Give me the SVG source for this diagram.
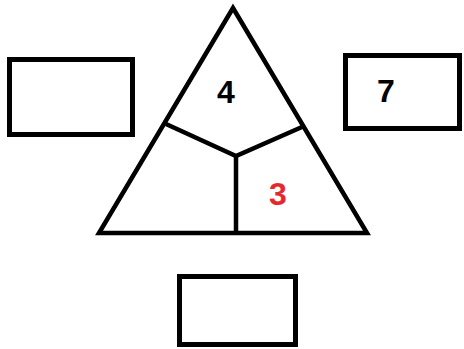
<svg xmlns="http://www.w3.org/2000/svg" width="464" height="349" viewBox="0 0 464 349">
<style>
.s{fill:none;stroke:#000;stroke-width:4.5;stroke-linejoin:miter}
.b{fill:#fff;stroke:#000;stroke-width:5}
.t{font-family:"Liberation Sans",Arial,sans-serif;font-weight:bold;font-size:32px;text-anchor:middle}
</style>
<rect width="464" height="349" fill="#fff"/>
<g id="triangle">
<polygon class="s" points="233,8 99,233 367,233"/>
<polyline class="s" points="166,124 236,156 302,127"/>
<line class="s" x1="236" y1="156" x2="236" y2="233"/>
<text class="t" x="226" y="103" fill="#000">4</text>
<text class="t" x="278" y="205" fill="#e8262d">3</text>
</g>
<g id="box-left"><rect class="b" x="9.5" y="59.5" width="123" height="75"/></g>
<g id="box-right"><rect class="b" x="345.5" y="55.5" width="114" height="73"/>
<text class="t" x="386" y="102" fill="#000">7</text></g>
<g id="box-bottom"><rect class="b" x="179.5" y="276.5" width="116" height="68"/></g>
<g id="connectors"></g>
</svg>
